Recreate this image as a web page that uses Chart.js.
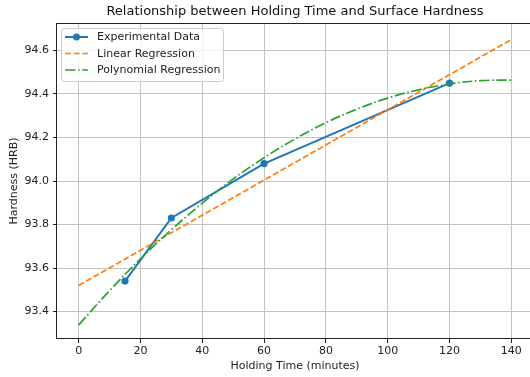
<!DOCTYPE html>
<html>
<head>
<meta charset="utf-8">
<script src="https://cdn.jsdelivr.net/npm/chart.js@4.4.1/dist/chart.umd.min.js"></script>
<style>
  html, body { margin: 0; padding: 0; overflow: hidden; background: #fff; }
  #wrap { width: 540px; height: 377px; }
</style>
</head>
<body>
<div id="wrap"><canvas id="chart" width="540" height="377"></canvas></div>
<script>
// values
const holdTime = [15, 30, 60, 120];
const hardness = [93.54, 93.83, 94.08, 94.45];

const linearX = [0, 140];
const linearY = [93.52, 94.65];

const polyX = [0, 10, 20, 30, 40, 50, 60, 70, 80, 90, 100, 110, 120, 130, 140];
const polyY = [93.338, 93.496, 93.642, 93.776, 93.898, 94.009, 94.107, 94.193, 94.268, 94.330, 94.381, 94.419, 94.446, 94.461, 94.464];

const xTicks = [0, 20, 40, 60, 80, 100, 120, 140];
const yTicks = [93.4, 93.6, 93.8, 94.0, 94.2, 94.4, 94.6];

const seriesNames = ['Experimental Data', 'Linear Regression', 'Polynomial Regression'];
const BLUE = '#1f77b4', ORANGE = '#ff7f0e', GREEN = '#2ca02c';
const FONT = 'DejaVu Sans';

const toPts = (xs, ys) => xs.map((x, i) => ({ x: x, y: ys[i] }));

// frame round the plot area
const framePlugin = {
  id: 'frame',
  afterDraw(chart) {
    const { ctx, chartArea: a } = chart;
    ctx.save();
    ctx.strokeStyle = '#222';
    ctx.lineWidth = 1;
    ctx.strokeRect(Math.round(a.left) - 0.5, Math.round(a.top) + 0.5,
      Math.round(a.right - a.left) + 1, Math.round(a.bottom - a.top) - 1);
    ctx.restore();
  }
};

// matplotlib style legend in the upper left corner
const legendPlugin = {
  id: 'mplLegend',
  afterDatasetsDraw(chart) {
    const { ctx, chartArea: a } = chart;
    const x0 = a.left + 4, y0 = a.top + 5, w = 162, h = 53;
    ctx.save();
    ctx.fillStyle = 'rgba(255,255,255,0.8)';
    ctx.strokeStyle = '#cccccc';
    ctx.lineWidth = 1;
    ctx.beginPath();
    ctx.roundRect(x0 + 0.5, y0 + 0.5, w, h, 3);
    ctx.fill();
    ctx.stroke();

    const styles = [
      { color: BLUE, dash: [], marker: true },
      { color: ORANGE, dash: [6, 2.6], marker: false },
      { color: GREEN, dash: [10.4, 2.6, 1.6, 2.6], marker: false }
    ];
    ctx.font = '11px "' + FONT + '"';
    ctx.textBaseline = 'middle';
    styles.forEach((s, i) => {
      const y = y0 + 9 + i * 16.5;
      ctx.strokeStyle = s.color;
      ctx.lineWidth = s.marker ? 2 : 1.7;
      ctx.setLineDash(s.dash);
      ctx.beginPath();
      ctx.moveTo(x0 + 4, y);
      ctx.lineTo(x0 + 27, y);
      ctx.stroke();
      ctx.setLineDash([]);
      if (s.marker) {
        ctx.fillStyle = s.color;
        ctx.beginPath();
        ctx.arc(x0 + 15.5, y, 3.5, 0, Math.PI * 2);
        ctx.fill();
      }
      ctx.fillStyle = '#222';
      ctx.fillText(seriesNames[i], x0 + 36, y + 0.5);
    });
    ctx.restore();
  }
};

new Chart(document.getElementById('chart'), {
  type: 'line',
  data: {
    datasets: [
      {
        label: seriesNames[0],
        data: toPts(holdTime, hardness),
        borderColor: BLUE,
        backgroundColor: BLUE,
        borderWidth: 2,
        pointRadius: 3.6,
        pointBorderWidth: 0,
        pointBackgroundColor: BLUE,
        tension: 0,
        order: 3
      },
      {
        label: seriesNames[1],
        data: toPts(linearX, linearY),
        borderColor: ORANGE,
        borderWidth: 1.7,
        borderDash: [6, 2.6],
        pointRadius: 0,
        tension: 0,
        order: 2
      },
      {
        label: seriesNames[2],
        data: toPts(polyX, polyY),
        borderColor: GREEN,
        borderWidth: 1.7,
        borderDash: [10.4, 2.6, 1.6, 2.6],
        pointRadius: 0,
        tension: 0.4,
        order: 1
      }
    ]
  },
  options: {
    responsive: false,
    animation: false,
    devicePixelRatio: 1,
    layout: { padding: { left: 0, right: 7, top: 0, bottom: 0 } },
    plugins: {
      legend: { display: false },
      tooltip: { enabled: false },
      title: {
        display: true,
        fullSize: false,
        text: 'Relationship between Holding Time and Surface Hardness',
        color: '#111',
        font: { family: FONT, size: 13, weight: 'normal' },
        padding: { top: 4, bottom: 3.4 }
      }
    },
    scales: {
      x: {
        type: 'linear',
        min: -7,
        max: 147,
        afterBuildTicks: s => { s.ticks = xTicks.map(v => ({ value: v })); },
        afterFit: s => { s.height = 38; },
        ticks: { color: '#222', padding: 2, font: { family: FONT, size: 11 }, maxRotation: 0 },
        grid: { color: '#c4c4c4', lineWidth: 1, tickLength: 4, tickColor: '#222' },
        border: { display: false },
        title: {
          display: true,
          text: 'Holding Time (minutes)',
          color: '#222',
          font: { family: FONT, size: 11 },
          padding: { top: 0, bottom: 4.4 }
        }
      },
      y: {
        type: 'linear',
        min: 93.274,
        max: 94.726,
        afterBuildTicks: s => { s.ticks = yTicks.map(v => ({ value: v })); },
        afterFit: s => { s.width = 57; },
        ticks: {
          color: '#222',
          padding: 4,
          font: { family: FONT, size: 11 },
          callback: v => v.toFixed(1)
        },
        grid: { color: '#c4c4c4', lineWidth: 1, tickLength: 4, tickColor: '#222' },
        border: { display: false },
        title: {
          display: true,
          text: 'Hardness (HRB)',
          color: '#222',
          font: { family: FONT, size: 11 },
          padding: { top: 7.4, bottom: 0 }
        }
      }
    }
  },
  plugins: [framePlugin, legendPlugin]
});
</script>
</body>
</html>
